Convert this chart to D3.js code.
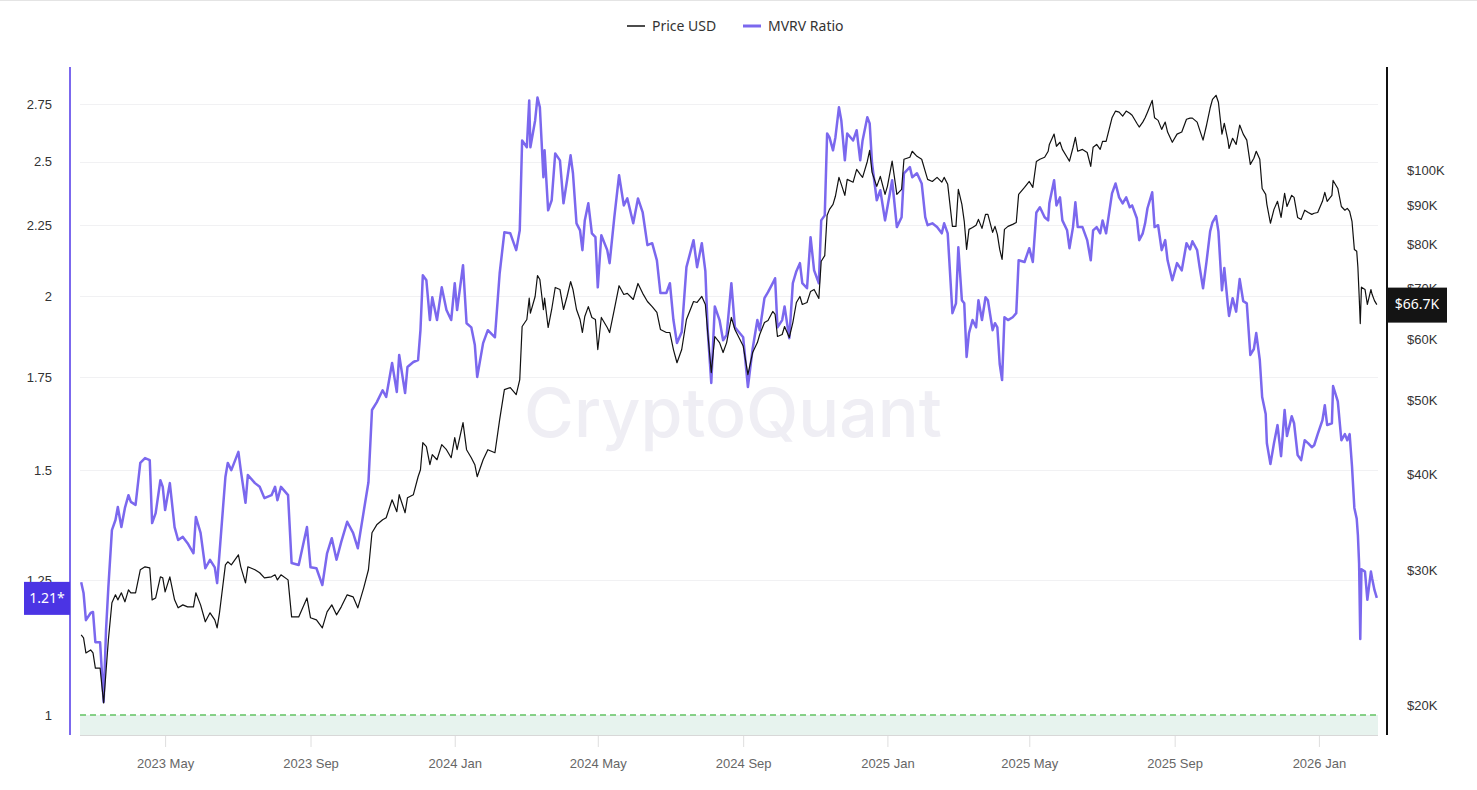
<!DOCTYPE html>
<html>
<head>
<meta charset="utf-8">
<script src="https://cdn.jsdelivr.net/npm/d3@7"></script>
<style>
    body { margin: 0; background: #fff; }
    svg { display: block; font-family: "Noto Sans", "Open Sans", sans-serif; }
</style>
</head>
<body>
<svg id="chart" width="1477" height="790"></svg>
<script>
// one line per month, the three arrays line up index by index
const dates = [
    "2023-02-19","2023-02-21","2023-02-23","2023-02-27",
    "2023-03-01","2023-03-03","2023-03-07","2023-03-10","2023-03-12","2023-03-14","2023-03-17","2023-03-20","2023-03-22","2023-03-25","2023-03-28","2023-03-31",
    "2023-04-02","2023-04-06","2023-04-10","2023-04-14","2023-04-18","2023-04-20","2023-04-23","2023-04-27","2023-04-29",
    "2023-05-01","2023-05-05","2023-05-09","2023-05-12","2023-05-16","2023-05-20","2023-05-25","2023-05-27","2023-05-31",
    "2023-06-04","2023-06-08","2023-06-12","2023-06-14","2023-06-16","2023-06-21","2023-06-23","2023-06-26",
    "2023-07-02","2023-07-04","2023-07-08","2023-07-10","2023-07-16","2023-07-20","2023-07-24","2023-07-30",
    "2023-08-02","2023-08-04","2023-08-07","2023-08-13","2023-08-16","2023-08-22","2023-08-29",
    "2023-09-01","2023-09-06","2023-09-11","2023-09-15","2023-09-19","2023-09-23","2023-09-27",
    "2023-10-02","2023-10-07","2023-10-11","2023-10-16","2023-10-20","2023-10-23","2023-10-27",
    "2023-11-01","2023-11-04","2023-11-09","2023-11-13","2023-11-15","2023-11-20","2023-11-22","2023-11-27",
    "2023-12-01","2023-12-03","2023-12-05","2023-12-08","2023-12-11","2023-12-13","2023-12-17","2023-12-21","2023-12-25","2023-12-29",
    "2024-01-01","2024-01-03","2024-01-08","2024-01-11","2024-01-15","2024-01-18","2024-01-20","2024-01-25","2024-01-29",
    "2024-02-04","2024-02-08","2024-02-12","2024-02-17","2024-02-22","2024-02-25","2024-02-27",
    "2024-03-02","2024-03-04","2024-03-05","2024-03-09","2024-03-11","2024-03-13","2024-03-16","2024-03-17","2024-03-20","2024-03-23","2024-03-26","2024-03-30",
    "2024-04-02","2024-04-05","2024-04-08","2024-04-10","2024-04-13","2024-04-16","2024-04-18","2024-04-20","2024-04-23","2024-04-26","2024-04-29",
    "2024-05-01","2024-05-04","2024-05-09","2024-05-11","2024-05-15","2024-05-19","2024-05-23","2024-05-26","2024-05-31",
    "2024-06-04","2024-06-08","2024-06-12","2024-06-16","2024-06-20","2024-06-23","2024-06-28",
    "2024-07-01","2024-07-04","2024-07-07","2024-07-11","2024-07-15","2024-07-21","2024-07-24","2024-07-28","2024-07-31",
    "2024-08-02","2024-08-05","2024-08-08","2024-08-12","2024-08-15","2024-08-18","2024-08-22","2024-08-25",
    "2024-09-01","2024-09-05","2024-09-09","2024-09-13","2024-09-15","2024-09-19","2024-09-22","2024-09-26","2024-09-28","2024-09-30",
    "2024-10-04","2024-10-06","2024-10-10","2024-10-13","2024-10-16","2024-10-19","2024-10-21","2024-10-25","2024-10-28","2024-10-31",
    "2024-11-04","2024-11-06","2024-11-09","2024-11-11","2024-11-13","2024-11-16","2024-11-18","2024-11-21","2024-11-23","2024-11-26","2024-11-28",
    "2024-12-03","2024-12-06","2024-12-09","2024-12-11","2024-12-15","2024-12-17","2024-12-19","2024-12-23","2024-12-26","2024-12-30",
    "2025-01-01","2025-01-05","2025-01-09","2025-01-13","2025-01-15","2025-01-20","2025-01-22","2025-01-26","2025-01-30",
    "2025-02-02","2025-02-04","2025-02-08","2025-02-12","2025-02-16","2025-02-18","2025-02-21","2025-02-25","2025-02-28",
    "2025-03-02","2025-03-05","2025-03-07","2025-03-09","2025-03-11","2025-03-14","2025-03-17","2025-03-19","2025-03-22","2025-03-25","2025-03-27","2025-03-31",
    "2025-04-02","2025-04-04","2025-04-06","2025-04-08","2025-04-10","2025-04-13","2025-04-17","2025-04-20","2025-04-22","2025-04-27",
    "2025-05-01","2025-05-04","2025-05-07","2025-05-10","2025-05-14","2025-05-17","2025-05-18","2025-05-22","2025-05-24","2025-05-27","2025-05-29",
    "2025-06-02","2025-06-04","2025-06-07","2025-06-09","2025-06-11","2025-06-15","2025-06-19","2025-06-22","2025-06-24","2025-06-27","2025-06-30",
    "2025-07-02","2025-07-05","2025-07-10","2025-07-13","2025-07-16","2025-07-19","2025-07-22","2025-07-25","2025-07-27","2025-07-31",
    "2025-08-02","2025-08-05","2025-08-07","2025-08-09","2025-08-13","2025-08-15","2025-08-18","2025-08-21","2025-08-24","2025-08-26","2025-08-30",
    "2025-09-03","2025-09-07","2025-09-11","2025-09-14","2025-09-16","2025-09-20","2025-09-22","2025-09-25","2025-09-28",
    "2025-10-01","2025-10-03","2025-10-06","2025-10-08","2025-10-11","2025-10-13","2025-10-16","2025-10-17","2025-10-20","2025-10-23","2025-10-26","2025-10-29",
    "2025-11-01","2025-11-04","2025-11-07","2025-11-09","2025-11-12","2025-11-14","2025-11-17","2025-11-18","2025-11-21","2025-11-24","2025-11-27","2025-11-30",
    "2025-12-03","2025-12-05","2025-12-09","2025-12-11","2025-12-14","2025-12-17","2025-12-20","2025-12-23","2025-12-26","2025-12-28","2025-12-31",
    "2026-01-04","2026-01-06","2026-01-08","2026-01-12","2026-01-13","2026-01-17","2026-01-20","2026-01-23","2026-01-25","2026-01-27","2026-01-29","2026-01-31",
    "2026-02-02","2026-02-03","2026-02-04","2026-02-05","2026-02-06","2026-02-09","2026-02-11","2026-02-14","2026-02-15","2026-02-17","2026-02-19"
];

const priceUsd = [
    24690,24480,23390,23600,
    23390,22350,22350,20120,22100,24330,27200,27860,27440,28030,27280,28280,
    28030,28030,30040,30310,30220,27440,27600,29410,29320,
    28110,29410,27440,26790,27030,26870,26870,28030,27030,
    25690,26390,25840,25220,26390,30490,30770,30490,
    31420,30310,28880,30310,30040,29770,29320,29410,
    29590,29140,29590,29140,26070,26070,27600,
    26000,25840,25220,26470,27030,26230,26870,
    27860,27690,26790,28450,30040,33580,34390,
    34920,35130,37080,35770,37650,35660,37300,37650,
    39740,40590,44040,43510,41210,42470,41830,43770,43110,42080,
    44700,43110,46760,43110,42080,41210,39740,41830,43110,
    42720,47190,51650,51970,50880,53230,62450,
    63780,68000,65000,68350,72800,71940,65700,68000,62260,65730,70230,69810,
    65730,68350,71500,69810,65730,63780,61330,64360,66300,64170,63780,
    58270,64170,62260,61330,65730,70600,68770,69000,67740,
    71080,69000,67330,66300,65140,61890,61330,
    61330,58270,56000,58270,63780,67330,67130,68360,66730,
    61330,54370,60600,59500,57750,59500,64170,61890,
    58900,54040,57750,59500,60960,63200,63600,65340,64750,60600,
    60960,62450,60420,63200,67130,68350,66730,67130,69400,69810,
    67940,76000,77300,87300,88830,90180,92400,97800,95780,92660,97230,
    96400,100200,98700,97800,102600,106100,99300,95200,98100,92940,
    95200,102700,92940,94350,103300,103900,105800,104200,103300,
    99600,97230,96600,97800,96400,97800,95780,84400,84400,
    94350,90180,85700,78750,83640,84100,84700,86190,83900,87500,87500,82900,
    84400,82390,78750,76410,83640,84400,84910,85400,92940,94900,
    96600,94900,102600,103300,103900,105800,108000,111400,107400,108700,106400,
    103900,102700,107000,110300,105800,106400,105400,101100,107100,108000,106400,
    109000,109000,117000,119400,119000,117600,119400,118600,117900,115100,
    113800,115500,117000,119000,123300,117000,116100,113000,115500,112100,108700,
    111400,112100,116500,116900,116900,115500,113000,109400,114500,
    120500,123700,125200,122600,111400,115100,109400,106700,110000,108000,114500,111400,
    109400,101700,103600,105800,103300,94600,92940,90180,85200,88830,91000,86700,
    93200,89600,92660,92100,86700,86190,88600,88000,87500,87800,88000,
    91000,93500,91000,92660,96900,94600,89600,88600,89100,88300,85700,78750,
    78300,74600,68800,63000,70300,69810,66730,69800,68800,67500,66700
];

const mvrvRatio = [
    1.246,1.224,1.170,1.184,
    1.186,1.128,1.128,1.022,1.150,1.236,1.358,1.381,1.411,1.365,1.409,1.439,
    1.423,1.416,1.518,1.530,1.525,1.374,1.397,1.475,1.459,
    1.404,1.468,1.365,1.336,1.343,1.329,1.307,1.388,1.352,
    1.275,1.293,1.277,1.244,1.307,1.483,1.518,1.500,
    1.546,1.500,1.421,1.488,1.468,1.459,1.432,1.439,
    1.459,1.427,1.459,1.439,1.286,1.282,1.365,
    1.277,1.275,1.240,1.307,1.340,1.293,1.332,
    1.377,1.352,1.318,1.401,1.470,1.657,1.678,
    1.712,1.693,1.791,1.707,1.815,1.704,1.779,1.794,
    1.800,1.891,2.071,2.054,1.923,1.997,1.923,2.030,1.955,1.923,
    2.044,1.955,2.106,1.913,1.900,1.845,1.750,1.851,1.891,
    1.869,2.078,2.224,2.220,2.159,2.231,2.589,
    2.560,2.766,2.560,2.676,2.780,2.735,2.436,2.547,2.306,2.345,2.534,2.505,
    2.333,2.424,2.526,2.452,2.257,2.231,2.159,2.268,2.333,2.220,2.206,
    2.030,2.213,2.159,2.113,2.280,2.444,2.325,2.352,2.257,
    2.352,2.298,2.177,2.184,2.123,2.011,2.011,
    2.044,1.923,1.851,1.885,2.099,2.195,2.099,2.184,2.085,
    1.891,1.733,1.967,1.923,1.860,1.876,2.044,1.900,
    1.869,1.721,1.834,1.923,1.891,1.994,2.014,2.044,2.061,1.900,
    1.923,1.967,1.866,2.044,2.085,2.113,2.044,2.027,2.206,2.088,
    2.044,2.268,2.287,2.619,2.602,2.547,2.602,2.735,2.676,2.505,2.619,
    2.589,2.633,2.505,2.589,2.690,2.663,2.493,2.345,2.384,2.268,
    2.318,2.424,2.243,2.280,2.452,2.477,2.436,2.452,2.411,
    2.280,2.250,2.257,2.243,2.220,2.257,2.220,1.945,1.977,
    2.169,1.987,1.977,1.809,1.882,1.923,1.900,1.987,1.923,1.997,1.987,1.891,
    1.913,1.900,1.788,1.741,1.932,1.923,1.932,1.945,2.123,2.117,
    2.166,2.117,2.298,2.318,2.280,2.268,2.333,2.424,2.325,2.356,2.268,
    2.231,2.166,2.243,2.337,2.243,2.243,2.195,2.123,2.231,2.243,2.220,
    2.268,2.220,2.372,2.411,2.356,2.333,2.356,2.318,2.325,2.276,
    2.195,2.220,2.257,2.314,2.376,2.243,2.250,2.159,2.195,2.123,2.054,
    2.113,2.088,2.184,2.162,2.191,2.159,2.102,2.027,2.120,
    2.227,2.261,2.284,2.227,2.020,2.096,1.971,1.936,1.994,1.950,2.058,1.984,
    1.977,1.815,1.833,1.882,1.800,1.693,1.646,1.568,1.515,1.568,1.616,1.535,
    1.657,1.587,1.640,1.621,1.538,1.525,1.576,1.568,1.558,1.563,1.592,
    1.629,1.670,1.616,1.621,1.724,1.681,1.576,1.592,1.576,1.592,1.510,1.409,
    1.384,1.347,1.286,1.134,1.273,1.268,1.210,1.268,1.254,1.230,1.214
];

const mvrvTicks = [1, 1.25, 1.5, 1.75, 2, 2.25, 2.5, 2.75];
const priceTicks = [20000, 30000, 40000, 50000, 60000, 70000, 80000, 90000, 100000];
const monthTicks = ["2023-05-01","2023-09-01","2024-01-01","2024-05-01","2024-09-01","2025-01-01","2025-05-01","2025-09-01","2026-01-01"];

const parseDate = d3.timeParse("%Y-%m-%d");

class MvrvChart {
    constructor(svgId){
        this.svg = d3.select(svgId);
        this.rows = dates.map((d, i) => ({date: parseDate(d), price: priceUsd[i], mvrv: mvrvRatio[i]}))
            .filter(d => d.price !== undefined && d.mvrv !== undefined);

        this.plot = {left: 80, right: 1378, top: 67, bottom: 735};
        this.leftAxisX = 70;
        this.rightAxisX = 1387;

        this.mvrvColor = "#7b68ee";
        this.priceColor = "#111111";

        const ext = d3.extent(this.rows, d => d.date);
        this.x = d3.scaleTime()
            .domain([d3.timeDay.offset(ext[0], -1), d3.timeDay.offset(ext[1], 1)])
            .range([this.plot.left, this.plot.right]);

        // both value axes are logarithmic
        this.yMvrv = d3.scaleLog().domain([1, 2.75]).range([715, 104]);
        this.yPrice = d3.scaleLog().domain([20000, 100000]).range([705, 170]);

        this.drawBackground()
        this.drawAxes()
        this.drawLines()
        this.drawLastValues()
        this.drawLegend()
    }

    drawBackground(){
        this.svg.append("line")
            .attr("x1", 0).attr("x2", 1477)
            .attr("y1", 0.5).attr("y2", 0.5)
            .attr("stroke", "#e4e4e4")

        this.svg.append("g")
            .selectAll("line")
            .data(mvrvTicks.filter(t => t > 1))
            .join("line")
            .attr("x1", this.plot.left)
            .attr("x2", this.plot.right)
            .attr("y1", d => Math.round(this.yMvrv(d)) + 0.5)
            .attr("y2", d => Math.round(this.yMvrv(d)) + 0.5)
            .attr("stroke", "#f1f1f3")

        // band under MVRV = 1
        const one = this.yMvrv(1);
        this.svg.append("rect")
            .attr("x", this.plot.left)
            .attr("y", one)
            .attr("width", this.plot.right - this.plot.left)
            .attr("height", this.plot.bottom - one)
            .attr("fill", "#e7f3ee")

        this.svg.append("line")
            .attr("x1", this.plot.left).attr("x2", this.plot.right)
            .attr("y1", one).attr("y2", one)
            .attr("stroke", "#63c363")
            .attr("stroke-width", 1.5)
            .attr("stroke-dasharray", "6,4")

        this.svg.append("text")
            .attr("x", 733)
            .attr("y", 418)
            .attr("text-anchor", "middle")
            .attr("dominant-baseline", "middle")
            .attr("font-family", "Inter, 'Noto Sans', sans-serif")
            .attr("font-size", 68)
            .attr("font-weight", 500)
            .attr("fill", "#efeef4")
            .text("CryptoQuant")
    }

    drawAxes(){
        const xAxis = d3.axisBottom(this.x)
            .tickValues(monthTicks.map(parseDate))
            .tickSize(12)
            .tickPadding(12)
            .tickFormat(d3.timeFormat("%Y %b"));

        const gx = this.svg.append("g")
            .attr("transform", `translate(0,${this.plot.bottom})`)
            .call(xAxis);
        gx.select(".domain").remove();
        gx.selectAll(".tick line").attr("stroke", "#dedede");
        gx.selectAll("text").attr("fill", "#666").attr("font-size", 13).attr("font-family", null);

        this.svg.append("line")
            .attr("x1", this.plot.left).attr("x2", this.plot.right)
            .attr("y1", this.plot.bottom + 0.5).attr("y2", this.plot.bottom + 0.5)
            .attr("stroke", "#d8d8d8")

        const yLeft = d3.axisLeft(this.yMvrv)
            .tickValues(mvrvTicks)
            .tickSize(0)
            .tickPadding(18)
            .tickFormat(d => String(d));

        const gl = this.svg.append("g")
            .attr("transform", `translate(${this.leftAxisX},0)`)
            .call(yLeft);
        gl.select(".domain").remove();
        gl.selectAll("text").attr("fill", "#333").attr("font-size", 13).attr("font-family", null);

        const yRight = d3.axisRight(this.yPrice)
            .tickValues(priceTicks)
            .tickSize(0)
            .tickPadding(20)
            .tickFormat(d => `$${d / 1000}K`);

        const gr = this.svg.append("g")
            .attr("transform", `translate(${this.rightAxisX},0)`)
            .call(yRight);
        gr.select(".domain").remove();
        gr.selectAll("text").attr("fill", "#333").attr("font-size", 13).attr("font-family", null);

        this.svg.append("line")
            .attr("x1", this.leftAxisX).attr("x2", this.leftAxisX)
            .attr("y1", this.plot.top).attr("y2", this.plot.bottom)
            .attr("stroke", this.mvrvColor)
            .attr("stroke-width", 2)

        this.svg.append("line")
            .attr("x1", this.rightAxisX).attr("x2", this.rightAxisX)
            .attr("y1", this.plot.top).attr("y2", this.plot.bottom)
            .attr("stroke", "#111")
            .attr("stroke-width", 2)
    }

    drawLines(){
        const mvrvLine = d3.line()
            .x(d => this.x(d.date))
            .y(d => this.yMvrv(d.mvrv));

        const priceLine = d3.line()
            .x(d => this.x(d.date))
            .y(d => this.yPrice(d.price));

        this.svg.append("path")
            .datum(this.rows)
            .attr("d", mvrvLine)
            .attr("fill", "none")
            .attr("stroke", this.mvrvColor)
            .attr("stroke-width", 2.5)
            .attr("stroke-linejoin", "round")

        this.svg.append("path")
            .datum(this.rows)
            .attr("d", priceLine)
            .attr("fill", "none")
            .attr("stroke", this.priceColor)
            .attr("stroke-width", 1.2)
            .attr("stroke-linejoin", "round")
    }

    drawLastValues(){
        const last = this.rows[this.rows.length - 1];

        const ly = this.yMvrv(last.mvrv);
        this.svg.append("rect")
            .attr("x", 24).attr("y", ly - 16)
            .attr("width", this.leftAxisX - 24).attr("height", 33)
            .attr("fill", "#4b34e4")
        this.svg.append("text")
            .attr("x", 47).attr("y", ly + 1)
            .attr("text-anchor", "middle")
            .attr("dominant-baseline", "middle")
            .attr("fill", "#fff")
            .attr("font-size", 14)
            .text(`${d3.format(".2f")(last.mvrv)}*`)

        const ry = this.yPrice(last.price);
        this.svg.append("rect")
            .attr("x", this.rightAxisX).attr("y", ry - 17)
            .attr("width", 60).attr("height", 35)
            .attr("fill", "#141414")
        this.svg.append("text")
            .attr("x", this.rightAxisX + 30).attr("y", ry + 1)
            .attr("text-anchor", "middle")
            .attr("dominant-baseline", "middle")
            .attr("fill", "#fff")
            .attr("font-size", 14)
            .text(`$${d3.format(".1f")(last.price / 1000)}K`)
    }

    drawLegend(){
        const items = [
            {label: "Price USD", color: this.priceColor, width: 1.5, x: 627},
            {label: "MVRV Ratio", color: this.mvrvColor, width: 3, x: 743}
        ];

        const g = this.svg.append("g")
            .selectAll("g")
            .data(items)
            .join("g")
            .attr("transform", d => `translate(${d.x},26)`)

        g.append("line")
            .attr("x1", 0).attr("x2", 18)
            .attr("stroke", d => d.color)
            .attr("stroke-width", d => d.width)

        g.append("text")
            .attr("x", 25)
            .attr("y", 5)
            .attr("fill", "#333")
            .attr("font-size", 14)
            .text(d => d.label)
    }
}

new MvrvChart("#chart");
</script>
</body>
</html>
